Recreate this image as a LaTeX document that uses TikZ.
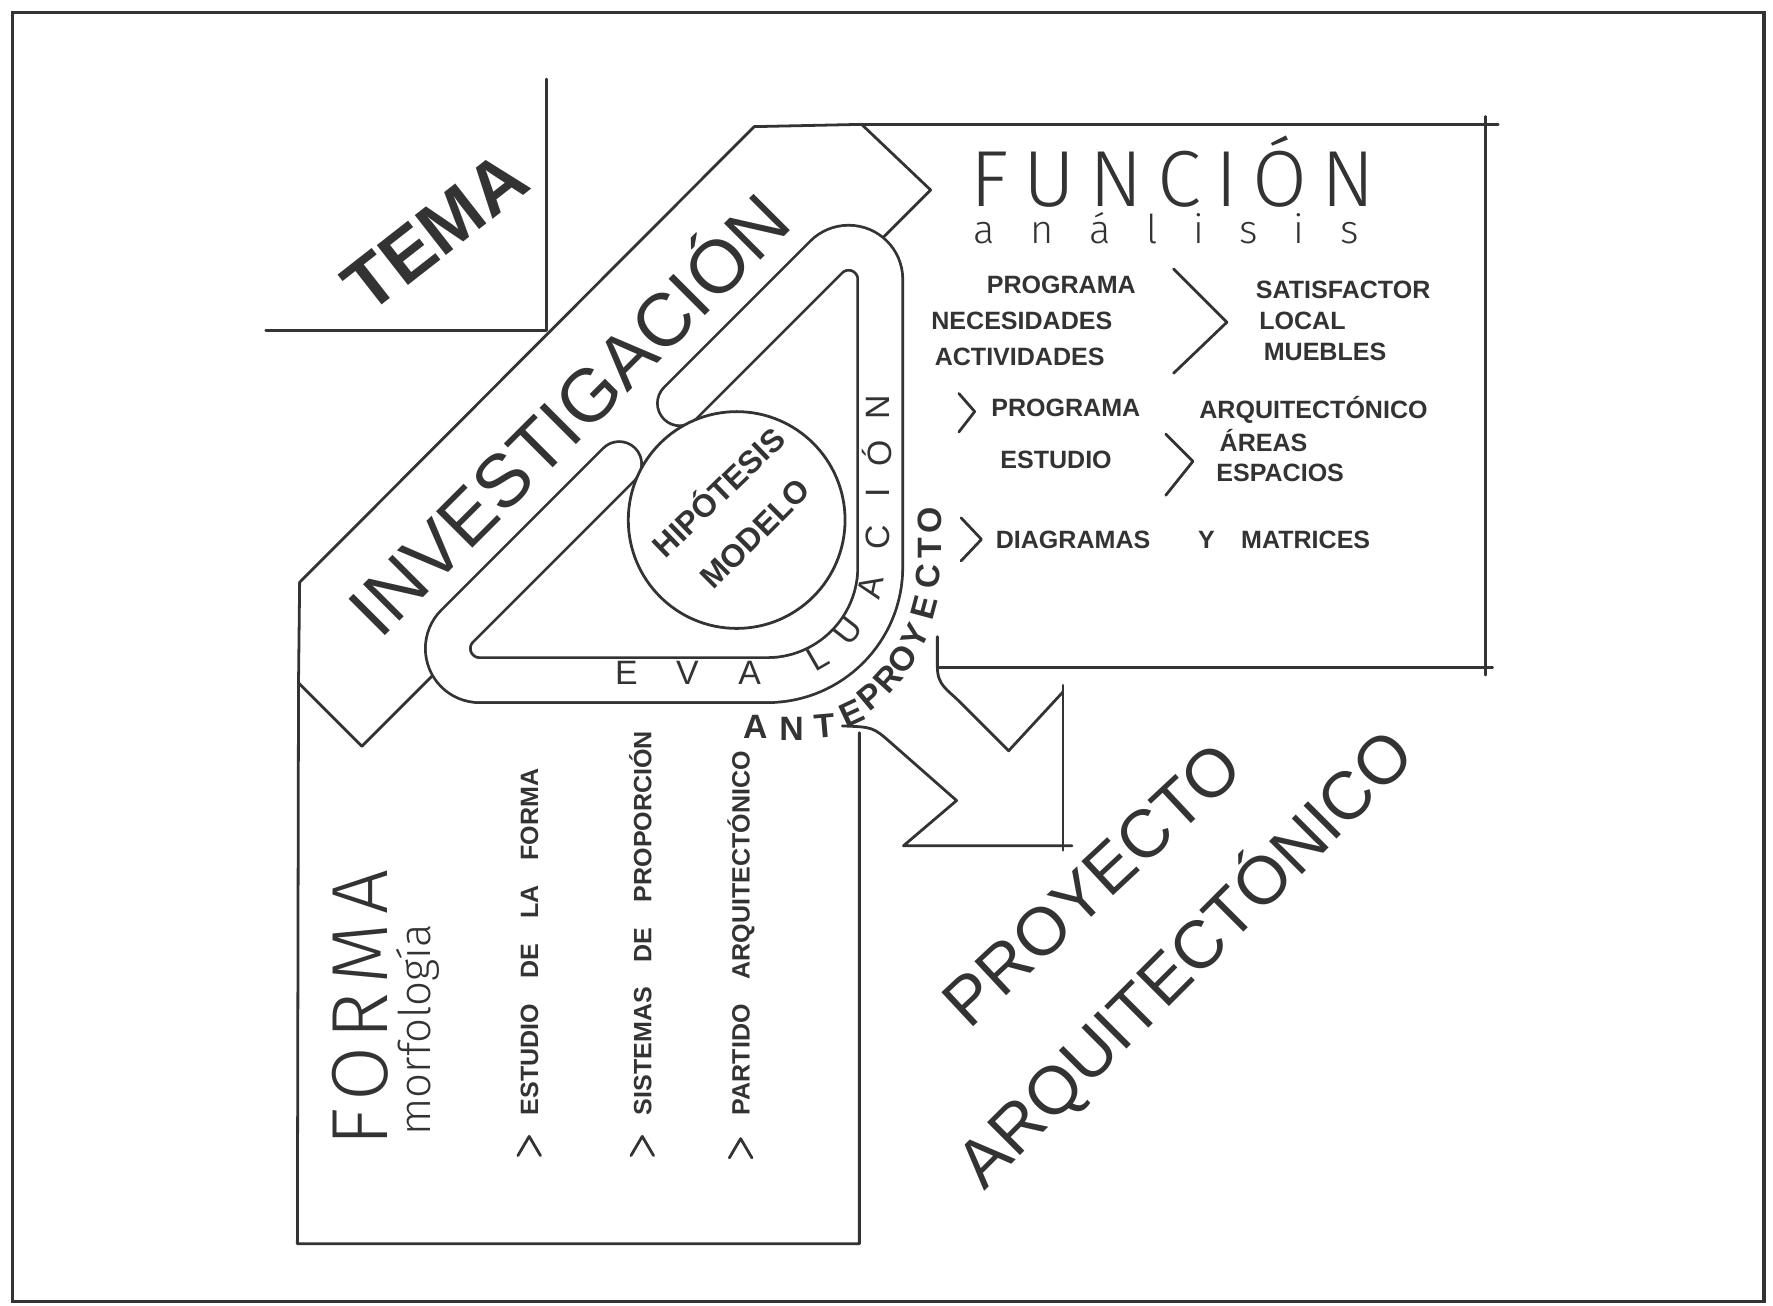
\documentclass[tikz,border=0pt]{standalone}
\usepackage{fontspec}
\setmainfont{Liberation Sans}
% a light face for the thin titles, with the letter spacing that fits it
\IfFontExistsTF{Fira Sans Light}
  {\newfontfamily\thinfont{Fira Sans Light}\def\funls{18}\def\forls{10}}
  {\IfFontExistsTF{Lato Light}
    {\newfontfamily\thinfont{Lato Light}\def\funls{13}\def\forls{5}}
    {\IfFontExistsTF{DejaVu Sans ExtraLight}
      {\newfontfamily\thinfont{DejaVu Sans ExtraLight}\def\funls{9}\def\forls{0}}
      {\newfontfamily\thinfont{Liberation Sans}\def\funls{9.5}\def\forls{0}}}}
\definecolor{ink}{gray}{0.2}
\tikzset{
    x=0.01cm, y=-0.01cm, % one unit is one pixel of the sketch, y runs downwards
    line/.style={draw=ink, line width=0.7pt, line cap=round, line join=round},
    frame/.style={draw=ink, line width=0.9pt},
    track/.style={draw=ink, line width=0.7pt, double=white, double distance=0.372cm, line cap=round}, % the open ring
    big/.style={text=ink, inner sep=0pt, font=\fontsize{18.8}{21}\selectfont},
    heavy/.style={text=ink, inner sep=0pt, font=\bfseries\fontsize{18.5}{21}\selectfont},
    tag/.style={text=ink, inner sep=0pt, anchor=base west, font=\bfseries\fontsize{6.3}{7}\selectfont},
    hipo/.style={text=ink, inner sep=0pt, font=\bfseries\fontsize{8}{9}\selectfont},
    evch/.style={text=ink, inner sep=0pt, font=\fontsize{8.5}{9}\selectfont},
    apch/.style={text=ink, inner sep=0pt, font=\bfseries\fontsize{8.5}{9}\selectfont},
}

\begin{document}
\begin{tikzpicture}
\useasboundingbox (0,0) rectangle (1568,1155);
\draw[frame] (11,11) rectangle (1560,1151);

% TEMA corner
\coordinate (temaT) at (483,70);
\coordinate (temaC) at (483,292);
\coordinate (temaL) at (235,292);
\draw[line] (temaT) -- (temaC) -- (temaL);
\node[heavy, rotate=38] (tema) at (385,205) {TEMA};

% band
\coordinate (bandE) at (265,515);
\coordinate (bandA) at (667,112);
\coordinate (bandB) at (762,110);
\coordinate (bandC) at (823,168);
\coordinate (bandD) at (776,215);
\coordinate (bandF) at (264,604);
\coordinate (bandG) at (320,660);
\coordinate (bandH) at (390,590);
\draw[line] (bandF) -- (bandE) -- (bandA) -- (bandB) -- (bandC) -- (bandD);
\draw[line] (bandF) -- (bandG) -- (bandH);

% box of FUNCION
\coordinate (funTR) at (1325,110);
\coordinate (funRT) at (1314,103);
\coordinate (funRB) at (1314,597);
\coordinate (funBR) at (1320,590);
\coordinate (funBL) at (829,590);
\draw[line] (bandB) -- (funTR);
\draw[line] (funRT) -- (funRB);
\draw[line] (funBR) -- (funBL);

% box of FORMA
\coordinate (forBL) at (263,1100);
\coordinate (forBR) at (760,1100);
\coordinate (forRT) at (760,648);
\draw[line] (bandF) -- (forBL) -- (forBR) -- (forRT);

% arrow to the project
\coordinate (arrTop) at (829,563);
\coordinate (arrN1) at (892,664);
\coordinate (arrB1) at (940,612);
\coordinate (arrTip) at (940,748);
\coordinate (arrB2) at (799,748);
\coordinate (arrN2) at (846,708);
\coordinate (arrEnd) at (745,642);
\draw[line] (arrTop) -- (829,590) .. controls (829,606) and (838,610) .. (848,620) -- (arrN1) -- (arrB1);
\draw[line] (940,606) -- (940,752);
\draw[line] (948,748) -- (arrB2) -- (arrN2) -- (788,657) .. controls (772,643) .. (arrEnd);

% the open ring
\coordinate (capL) at (547.6,410.4);
\coordinate (capU) at (601.3,356.7);
\draw[track] (capL) -- (404.3,553.7) arc[start angle=225, end angle=90, radius=28]
    -- (678.5,601.5) arc[start angle=90, end angle=0, radius=100]
    -- (778.5,247.1) arc[start angle=360, end angle=225, radius=28] -- (capU);

% hypothesis
\node[draw=ink, line width=0.7pt, fill=white, circle, minimum size=1.916cm, inner sep=0pt] (hip) at (651.5,459.9) {};
\node[hipo, rotate=44] (hipA) at (634,434) {HIPÓTESIS};
\node[hipo, rotate=45] (hipB) at (668,472) {MODELO};

% big titles
\node[big, rotate=45] (inv) at (499.5,363) {INVESTIGACIÓN};
\node[text=ink, inner sep=0pt, rotate=43, font=\fontsize{17}{19}\selectfont] (proA) at (966,782) {PROYECTO};
\node[text=ink, inner sep=0pt, rotate=45, font=\fontsize{17}{19}\selectfont] (proB) at (1048,848) {ARQUITECTÓNICO};

% FUNCION
\node[anchor=base west, text=ink, inner sep=0pt, font={\thinfont\addfontfeatures{LetterSpace=\funls}\fontsize{20}{22}\selectfont}] (fun) at (858,183) {FUNCIÓN};
\node[anchor=base west, text=ink, inner sep=0pt, font={\thinfont\addfontfeatures{LetterSpace=90}\fontsize{10}{12}\selectfont}] (ana) at (860,215) {análisis};
\node[tag] (t1) at (872,260) {PROGRAMA};
\node[tag] (t2) at (823,291) {NECESIDADES};
\node[tag] (t3) at (826,323) {ACTIVIDADES};
\node[tag] (t4) at (1110,264) {SATISFACTOR};
\node[tag] (t5) at (1113,291) {LOCAL};
\node[tag] (t6) at (1117,319) {MUEBLES};
\node[tag] (t7) at (876,368) {PROGRAMA};
\node[tag] (t8) at (1060,370) {ARQUITECTÓNICO};
\node[tag] (t9) at (884,414) {ESTUDIO};
\node[tag] (t10) at (1078,399) {ÁREAS};
\node[tag] (t11) at (1075,426) {ESPACIOS};
\node[tag] (t12) at (880,485) {DIAGRAMAS};
\node[tag] (t13) at (1059,485) {Y};
\node[tag] (t14) at (1097,485) {MATRICES};
\draw[line] (1038,238) -- (1085,285) -- (1038,330);
\draw[line] (848,348) -- (862,364) -- (848,382);
\draw[line] (1031,384) -- (1055,408) -- (1031,438);
\draw[line] (850,458) -- (868,477) -- (850,496);

% FORMA
\node[anchor=base west, rotate=90, text=ink, inner sep=0pt, font={\thinfont\addfontfeatures{LetterSpace=\forls}\fontsize{20}{22}\selectfont}] (for) at (343,1015) {FORMA};
\node[anchor=base west, rotate=90, text=ink, inner sep=0pt, font={\thinfont\fontsize{11}{13}\selectfont}] (mor) at (381,1005) {morfología};
\node[tag, rotate=90] (f1) at (476,987) {ESTUDIO\quad DE\quad LA\quad FORMA};
\node[tag, rotate=90] (f2) at (576,987) {SISTEMAS\quad DE\quad PROPORCIÓN};
\node[tag, rotate=90] (f3) at (663,987) {PARTIDO\quad ARQUITECTÓNICO};
\draw[line] (458,1022) -- (468,1005) -- (478,1022);
\draw[line] (558,1022) -- (568,1005) -- (578,1022);
\draw[line] (645,1024) -- (655,1007) -- (665,1024);

% letters round the ring
\foreach \ch/\px/\py/\ang [count=\k] in {E/554/595/0, V/608/595/0, A/663/595/0, L/723/582/30,
    U/750/558/52, A/770/519/78, C/776/475/90, I/776/436/90, Ó/776/401/90, N/776/360/90}
    \node[evch, rotate=\ang] (ev\k) at (\px,\py) {\ch};
\foreach \ch/\px/\py/\ang [count=\k] in {A/668/643/0, N/700/645/0, T/729/642/5, E/753/631/25,
    P/770/616/40, R/785/600/48, O/798/583/55, Y/809/563/63, E/817/537/75, C/821/510/85,
    T/822/485/90, O/822/460/90}
    \node[apch, rotate=\ang] (ap\k) at (\px,\py) {\ch};
\end{tikzpicture}
\end{document}
